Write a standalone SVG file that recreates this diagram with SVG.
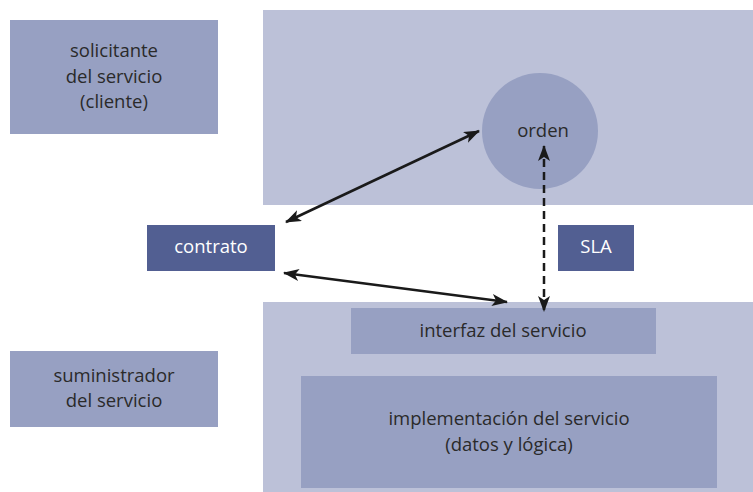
<svg xmlns="http://www.w3.org/2000/svg" width="753" height="492" viewBox="0 0 753 492">
<style>
.light{fill:#bcc1d8}
.mid{fill:#97a0c2}
.dark{fill:#525f92}
text{font-family:"Open Sans","Noto Sans","DejaVu Sans",sans-serif;font-size:18.5px;fill:#2a2a2a;text-anchor:middle}
text.w{fill:#ffffff}
.conn{stroke:#1a1a1a;stroke-width:2.5;fill:none}
.dash{stroke-dasharray:8,5}
</style>
<defs>
<marker id="ah" viewBox="0 0 16 12" refX="15" refY="6" markerWidth="16" markerHeight="12" markerUnits="userSpaceOnUse" orient="auto-start-reverse">
<path d="M0,0 L16,6 L0,12 L4,6 Z" fill="#1a1a1a"/>
</marker>
</defs>
<g id="panel-top"><rect class="light" x="263" y="10" width="490" height="195"/></g>
<g id="panel-bottom"><rect class="light" x="263" y="302" width="490" height="190"/></g>
<g id="solicitante"><rect class="mid" x="10" y="20" width="208" height="114"/>
<text x="114" y="57">solicitante</text><text x="114" y="83">del servicio</text><text x="114" y="108">(cliente)</text></g>
<g id="suministrador"><rect class="mid" x="10" y="351" width="208" height="76"/>
<text x="114" y="382">suministrador</text><text x="114" y="407">del servicio</text></g>
<g id="orden"><circle class="mid" cx="540" cy="131" r="58"/><text x="543" y="137">orden</text></g>
<g id="contrato"><rect class="dark" x="147" y="225" width="128" height="46"/><text class="w" x="211" y="253">contrato</text></g>
<g id="sla"><rect class="dark" x="558" y="225" width="76" height="46"/><text class="w" x="596" y="253">SLA</text></g>
<g id="interfaz"><rect class="mid" x="351" y="308" width="305" height="46"/><text x="503" y="337">interfaz del servicio</text></g>
<g id="implementacion"><rect class="mid" x="301" y="376" width="416" height="112"/>
<text x="509" y="425">implementación del servicio</text><text x="509" y="451">(datos y lógica)</text></g>
<g id="connectors">
<line class="conn" x1="286" y1="222" x2="479" y2="131" marker-start="url(#ah)" marker-end="url(#ah)"/>
<line class="conn" x1="284" y1="273" x2="507" y2="302" marker-start="url(#ah)" marker-end="url(#ah)"/>
<line class="conn dash" x1="544" y1="146" x2="544" y2="311" marker-start="url(#ah)" marker-end="url(#ah)"/>
</g>
</svg>
